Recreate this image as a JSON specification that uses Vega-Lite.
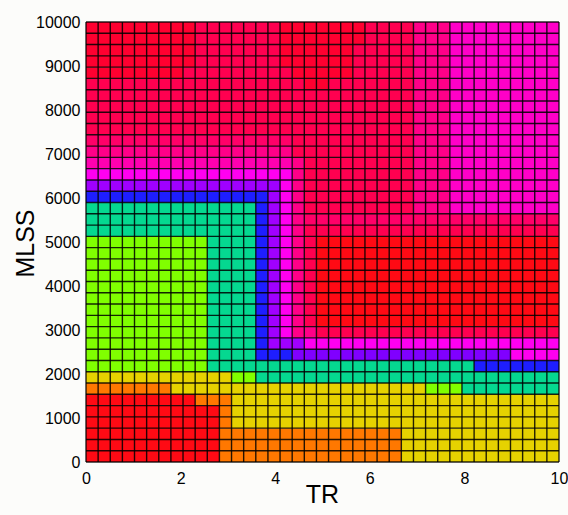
{
  "$schema": "https://vega.github.io/schema/vega-lite/v6.json",
  "width": 473,
  "height": 440,
  "autosize": {"type": "none"},
  "padding": {"left": 86, "top": 22, "right": 9, "bottom": 53},
  "background": "#fcfcfa",
  "config": {"view": {"stroke": null}, "font": "Liberation Sans"},
  "datasets": {
    "cells": [
      {"tr0":0,"tr1":2.8205,"m0":0,"m1":1282.05,"c":"R"},
      {"tr0":0,"tr1":2.3077,"m0":1282.05,"m1":1538.46,"c":"R"},
      {"tr0":2.8205,"tr1":6.6667,"m0":0,"m1":769.23,"c":"O"},
      {"tr0":6.6667,"tr1":10,"m0":0,"m1":769.23,"c":"Y"},
      {"tr0":2.8205,"tr1":3.0769,"m0":769.23,"m1":1282.05,"c":"O"},
      {"tr0":2.3077,"tr1":3.0769,"m0":1282.05,"m1":1538.46,"c":"O"},
      {"tr0":3.0769,"tr1":10,"m0":769.23,"m1":1538.46,"c":"Y"},
      {"tr0":0,"tr1":1.7949,"m0":1538.46,"m1":1794.87,"c":"O"},
      {"tr0":1.7949,"tr1":7.1795,"m0":1538.46,"m1":1794.87,"c":"Y"},
      {"tr0":7.1795,"tr1":7.9487,"m0":1538.46,"m1":1794.87,"c":"G"},
      {"tr0":7.9487,"tr1":10,"m0":1538.46,"m1":1794.87,"c":"T"},
      {"tr0":0,"tr1":3.0769,"m0":1794.87,"m1":2051.28,"c":"Y"},
      {"tr0":3.0769,"tr1":3.5897,"m0":1794.87,"m1":2051.28,"c":"G"},
      {"tr0":3.5897,"tr1":10,"m0":1794.87,"m1":2051.28,"c":"T"},
      {"tr0":0,"tr1":2.5641,"m0":2051.28,"m1":5128.21,"c":"G"},
      {"tr0":2.5641,"tr1":3.5897,"m0":2051.28,"m1":5897.44,"c":"T"},
      {"tr0":3.5897,"tr1":8.2051,"m0":2051.28,"m1":2307.69,"c":"T"},
      {"tr0":8.2051,"tr1":10,"m0":2051.28,"m1":2307.69,"c":"B"},
      {"tr0":3.5897,"tr1":4.359,"m0":2307.69,"m1":2564.1,"c":"B"},
      {"tr0":4.359,"tr1":8.9744,"m0":2307.69,"m1":2564.1,"c":"V"},
      {"tr0":8.9744,"tr1":10,"m0":2307.69,"m1":2564.1,"c":"M"},
      {"tr0":3.5897,"tr1":3.8462,"m0":2564.1,"m1":5897.44,"c":"B"},
      {"tr0":3.8462,"tr1":4.6154,"m0":2564.1,"m1":2820.51,"c":"P"},
      {"tr0":4.6154,"tr1":10,"m0":2564.1,"m1":2820.51,"c":"M"},
      {"tr0":3.8462,"tr1":4.1026,"m0":2820.51,"m1":6153.85,"c":"P"},
      {"tr0":4.1026,"tr1":4.359,"m0":2820.51,"m1":6410.26,"c":"M"},
      {"tr0":4.359,"tr1":4.6154,"m0":2820.51,"m1":6923.08,"c":"K"},
      {"tr0":4.6154,"tr1":4.8718,"m0":2820.51,"m1":3076.92,"c":"K"},
      {"tr0":4.8718,"tr1":10,"m0":2820.51,"m1":3076.92,"c":"C"},
      {"tr0":4.6154,"tr1":4.8718,"m0":3076.92,"m1":5128.21,"c":"C"},
      {"tr0":4.8718,"tr1":10,"m0":3076.92,"m1":5128.21,"c":"R"},
      {"tr0":0,"tr1":2.5641,"m0":5128.21,"m1":5897.44,"c":"T"},
      {"tr0":4.6154,"tr1":10,"m0":5128.21,"m1":5384.62,"c":"C"},
      {"tr0":4.6154,"tr1":10,"m0":5384.62,"m1":5641.03,"c":"CK"},
      {"tr0":4.6154,"tr1":6.9231,"m0":5641.03,"m1":6923.08,"c":"C"},
      {"tr0":6.9231,"tr1":7.6923,"m0":5641.03,"m1":10000,"c":"K"},
      {"tr0":7.6923,"tr1":10,"m0":5641.03,"m1":10000,"c":"M2"},
      {"tr0":0,"tr1":3.8462,"m0":5897.44,"m1":6153.85,"c":"B"},
      {"tr0":0,"tr1":4.1026,"m0":6153.85,"m1":6410.26,"c":"P"},
      {"tr0":0,"tr1":4.359,"m0":6410.26,"m1":6666.67,"c":"M"},
      {"tr0":0,"tr1":4.359,"m0":6666.67,"m1":6923.08,"c":"MK"},
      {"tr0":0,"tr1":4.359,"m0":6923.08,"m1":7179.49,"c":"K"},
      {"tr0":0,"tr1":4.359,"m0":7179.49,"m1":7435.9,"c":"CK"},
      {"tr0":4.359,"tr1":6.9231,"m0":6923.08,"m1":8461.54,"c":"C"},
      {"tr0":0,"tr1":4.359,"m0":7435.9,"m1":8717.95,"c":"C"},
      {"tr0":4.359,"tr1":4.6154,"m0":8461.54,"m1":8717.95,"c":"C"},
      {"tr0":4.6154,"tr1":5.1282,"m0":8461.54,"m1":8717.95,"c":"R2"},
      {"tr0":5.1282,"tr1":6.9231,"m0":8461.54,"m1":8717.95,"c":"C"},
      {"tr0":0,"tr1":2.0513,"m0":8717.95,"m1":8974.36,"c":"R2"},
      {"tr0":2.0513,"tr1":4.359,"m0":8717.95,"m1":8974.36,"c":"C"},
      {"tr0":4.359,"tr1":5.641,"m0":8717.95,"m1":8974.36,"c":"R2"},
      {"tr0":5.641,"tr1":6.9231,"m0":8717.95,"m1":8974.36,"c":"C"},
      {"tr0":0,"tr1":2.3077,"m0":8974.36,"m1":10000,"c":"R2"},
      {"tr0":2.3077,"tr1":4.1026,"m0":8974.36,"m1":10000,"c":"C"},
      {"tr0":4.1026,"tr1":5.641,"m0":8974.36,"m1":9487.18,"c":"R2"},
      {"tr0":5.641,"tr1":6.9231,"m0":8974.36,"m1":9487.18,"c":"C"},
      {"tr0":4.1026,"tr1":5.8974,"m0":9487.18,"m1":10000,"c":"R2"},
      {"tr0":5.8974,"tr1":6.9231,"m0":9487.18,"m1":10000,"c":"C"}
    ],
    "trEdges": [
      {"tr":0},{"tr":0.2564},{"tr":0.5128},{"tr":0.7692},{"tr":1.0256},{"tr":1.2821},{"tr":1.5385},{"tr":1.7949},{"tr":2.0513},{"tr":2.3077},
      {"tr":2.5641},{"tr":2.8205},{"tr":3.0769},{"tr":3.3333},{"tr":3.5897},{"tr":3.8462},{"tr":4.1026},{"tr":4.359},{"tr":4.6154},{"tr":4.8718},
      {"tr":5.1282},{"tr":5.3846},{"tr":5.641},{"tr":5.8974},{"tr":6.1538},{"tr":6.4103},{"tr":6.6667},{"tr":6.9231},{"tr":7.1795},{"tr":7.4359},
      {"tr":7.6923},{"tr":7.9487},{"tr":8.2051},{"tr":8.4615},{"tr":8.7179},{"tr":8.9744},{"tr":9.2308},{"tr":9.4872},{"tr":9.7436},{"tr":10}
    ],
    "mlssEdges": [
      {"mlss":0},{"mlss":256.41},{"mlss":512.82},{"mlss":769.23},{"mlss":1025.64},{"mlss":1282.05},{"mlss":1538.46},{"mlss":1794.87},{"mlss":2051.28},{"mlss":2307.69},
      {"mlss":2564.1},{"mlss":2820.51},{"mlss":3076.92},{"mlss":3333.33},{"mlss":3589.74},{"mlss":3846.15},{"mlss":4102.56},{"mlss":4358.97},{"mlss":4615.38},{"mlss":4871.79},
      {"mlss":5128.21},{"mlss":5384.62},{"mlss":5641.03},{"mlss":5897.44},{"mlss":6153.85},{"mlss":6410.26},{"mlss":6666.67},{"mlss":6923.08},{"mlss":7179.49},{"mlss":7435.9},
      {"mlss":7692.31},{"mlss":7948.72},{"mlss":8205.13},{"mlss":8461.54},{"mlss":8717.95},{"mlss":8974.36},{"mlss":9230.77},{"mlss":9487.18},{"mlss":9743.59},{"mlss":10000}
    ]
  },
  "layer": [
    {
      "data": {"name": "cells"},
      "mark": {"type": "rect", "strokeWidth": 0},
      "encoding": {
        "x": {
          "field": "tr0", "type": "quantitative", "title": "TR",
          "scale": {"domain": [0, 10], "nice": false, "zero": false},
          "axis": {
            "title": "TR",
            "values": [0, 2, 4, 6, 8, 10],
            "format": "d",
            "grid": false,
            "ticks": false,
            "domain": false,
            "labelFontSize": 16,
            "labelColor": "#000000",
            "labelPadding": 8,
            "labelFlush": false,
            "labelOverlap": false,
            "labelBound": false,
            "titleFontSize": 25,
            "titleFontWeight": "normal",
            "titleColor": "#000000",
            "titleX": 236,
            "titleY": 32,
            "titleBaseline": "middle",
            "titleAlign": "center"
          }
        },
        "x2": {"field": "tr1"},
        "y": {
          "field": "m0", "type": "quantitative", "title": "MLSS",
          "scale": {"domain": [0, 10000], "nice": false, "zero": false},
          "axis": {
            "title": "MLSS",
            "values": [0, 1000, 2000, 3000, 4000, 5000, 6000, 7000, 8000, 9000, 10000],
            "format": "d",
            "grid": false,
            "ticks": false,
            "domain": false,
            "labelFontSize": 16,
            "labelColor": "#000000",
            "labelPadding": 6,
            "labelFlush": false,
            "labelOverlap": false,
            "labelBound": false,
            "titleFontSize": 25,
            "titleFontWeight": "normal",
            "titleColor": "#000000",
            "titleX": -61,
            "titleY": 221,
            "titleAngle": -90,
            "titleBaseline": "middle",
            "titleAlign": "center"
          }
        },
        "y2": {"field": "m1"},
        "color": {
          "field": "c", "type": "nominal", "legend": null,
          "scale": {
            "domain": ["R","O","Y","G","T","B","P","V","M","M2","MK","K","CK","C","R2"],
            "range": ["#ff0a14","#ff7800","#e6d200","#80ff00","#05d890","#1e1eff","#a000ff","#8000ff","#ff00f0","#ff00c8","#ff00b0","#ff0088","#ff0068","#ff0050","#ff0030"]
          }
        }
      }
    },
    {
      "data": {"name": "trEdges"},
      "mark": {"type": "rule", "color": "#000000", "strokeWidth": 1.4, "opacity": 0.85},
      "encoding": {
        "x": {"field": "tr", "type": "quantitative", "title": "TR"}
      }
    },
    {
      "data": {"name": "mlssEdges"},
      "mark": {"type": "rule", "color": "#000000", "strokeWidth": 1.4, "opacity": 0.85},
      "encoding": {
        "y": {"field": "mlss", "type": "quantitative", "title": "MLSS"}
      }
    }
  ]
}
